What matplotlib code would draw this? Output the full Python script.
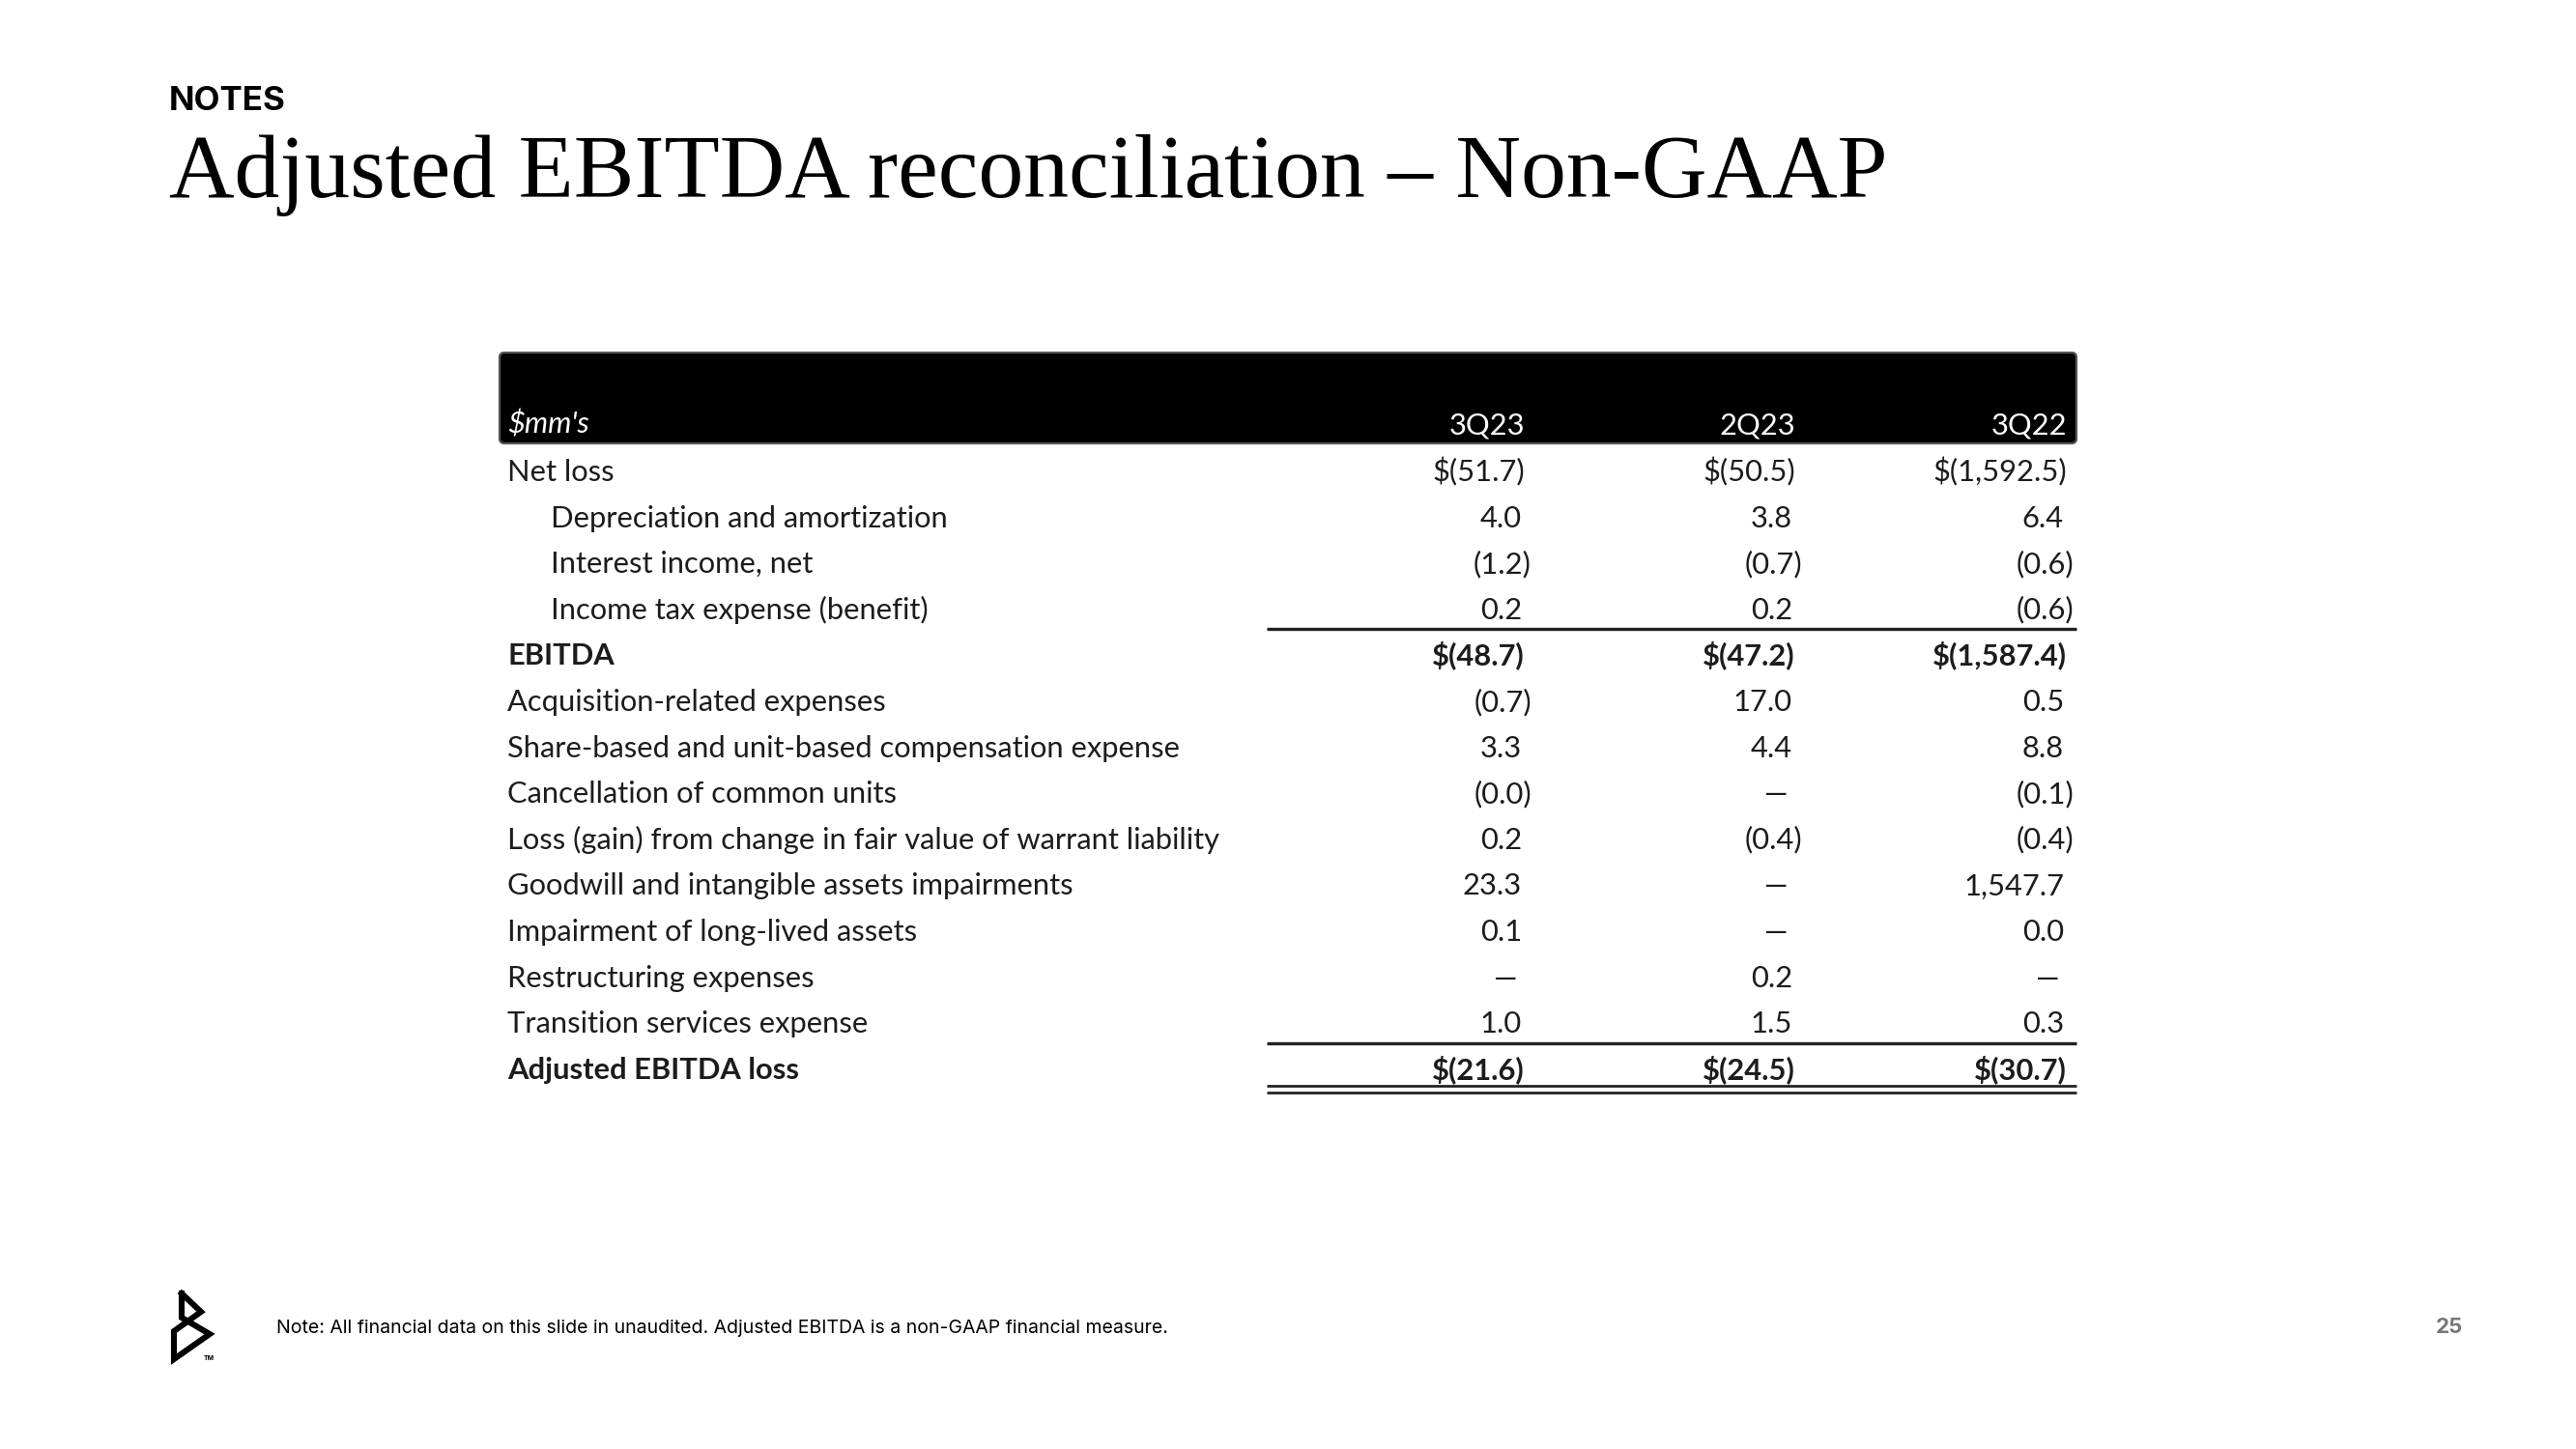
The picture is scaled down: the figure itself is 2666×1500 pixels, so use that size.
import matplotlib
matplotlib.use("Agg")
import matplotlib.pyplot as plt
from matplotlib.patches import FancyBboxPatch

# table content
labels = ["Net loss",
          "Depreciation and amortization",
          "Interest income, net",
          "Income tax expense (benefit)",
          "EBITDA",
          "Acquisition-related expenses",
          "Share-based and unit-based compensation expense",
          "Cancellation of common units",
          "Loss (gain) from change in fair value of warrant liability",
          "Goodwill and intangible assets impairments",
          "Impairment of long-lived assets",
          "Restructuring expenses",
          "Transition services expense",
          "Adjusted EBITDA loss"]
indented = [0, 1, 1, 1, 0, 0, 0, 0, 0, 0, 0, 0, 0, 0]
bold_rows = [4, 13]

periods = ["3Q23", "2Q23", "3Q22"]
q3_23 = ["$(51.7)", "4.0", "(1.2)", "0.2", "$(48.7)", "(0.7)", "3.3", "(0.0)",
         "0.2", "23.3", "0.1", "\u2014", "1.0", "$(21.6)"]
q2_23 = ["$(50.5)", "3.8", "(0.7)", "0.2", "$(47.2)", "17.0", "4.4", "\u2014",
         "(0.4)", "\u2014", "\u2014", "0.2", "1.5", "$(24.5)"]
q3_22 = ["$(1,592.5)", "6.4", "(0.6)", "(0.6)", "$(1,587.4)", "0.5", "8.8", "(0.1)",
         "(0.4)", "1,547.7", "0.0", "\u2014", "0.3", "$(30.7)"]
columns = [q3_23, q2_23, q3_22]

# layout in pixel units of the 2666x1500 slide
W, H = 2666, 1500
col_x = [1578, 1858, 2139]
row_y0, row_step = 488, 47.6
tfont = "Lato"
tsize = 11.1
ink = "#1c1c1c"

fig = plt.figure(figsize=(13.33, 7.5), dpi=200)
ax = fig.add_axes([0, 0, 1, 1])
ax.set_xlim(0, W)
ax.set_ylim(H, 0)
ax.axis("off")

# headings
ax.text(175, 114, "NOTES", family="Inter", weight="bold", fontsize=12.6,
        color="black", va="baseline")
ax.text(175, 204, "Adjusted EBITDA reconciliation \u2013 Non-GAAP",
        family="Liberation Serif", fontsize=33.7, color="black", va="baseline")

# black header band
band = FancyBboxPatch((517, 365), 1632, 94, boxstyle="round,pad=0,rounding_size=5",
                      fc="black", ec="#555555", lw=0.8)
ax.add_patch(band)
ax.text(525, 449, "$mm's", family=tfont, style="italic", fontsize=tsize,
        color="white", va="baseline")
for x, p in zip(col_x, periods):
    ax.text(x, 449, p, family=tfont, fontsize=tsize, color="white",
            ha="right", va="baseline")

# rows
for i, lab in enumerate(labels):
    yb = row_y0 + row_step * i + 10
    wt = "bold" if i in bold_rows else "normal"
    x0 = 570 if indented[i] else 525
    ax.text(x0, yb, lab, family=tfont, fontsize=tsize, weight=wt,
            color=ink, va="baseline")
    for cx, col in zip(col_x, columns):
        s = col[i]
        if s == "\u2014":
            ax.text(cx - 20, yb, s, family=tfont, fontsize=tsize, weight=wt,
                    color=ink, ha="center", va="baseline")
            continue
        if s.startswith("$"):
            xr = cx
        elif s.startswith("("):
            xr = cx + 7
        else:
            xr = cx - 3
        ax.text(xr, yb, s, family=tfont, fontsize=tsize, weight=wt,
                color=ink, ha="right", va="baseline")

# subtotal rules
ax.plot([1311, 2149], [651, 651], color="#222222", lw=1.2, solid_capstyle="butt")
ax.plot([1311, 2149], [1080, 1080], color="#222222", lw=1.2, solid_capstyle="butt")
ax.plot([1311, 2149], [1124, 1124], color="#222222", lw=1.0, solid_capstyle="butt")
ax.plot([1311, 2149], [1131, 1131], color="#222222", lw=1.0, solid_capstyle="butt")

# logo mark
logo_x = [188, 188, 217, 180, 180, 208, 188]
logo_y = [1339, 1364, 1381, 1407, 1378, 1358, 1339]
ax.plot(logo_x, logo_y, color="black", lw=2.2, solid_joinstyle="miter")
ax.text(211, 1406, "TM", family="Inter", weight="bold", fontsize=2.5, color="black",
        va="center")

# footer
ax.text(286, 1380, "Note: All financial data on this slide in unaudited. Adjusted EBITDA is a "
        "non-GAAP financial measure.", family="Inter", fontsize=7.0, color="black",
        va="baseline")
ax.text(2549, 1380, "25", family="Inter", weight="bold", fontsize=8, color="#777777",
        ha="right", va="baseline")

fig.savefig("out.png", dpi=200, facecolor="white")
